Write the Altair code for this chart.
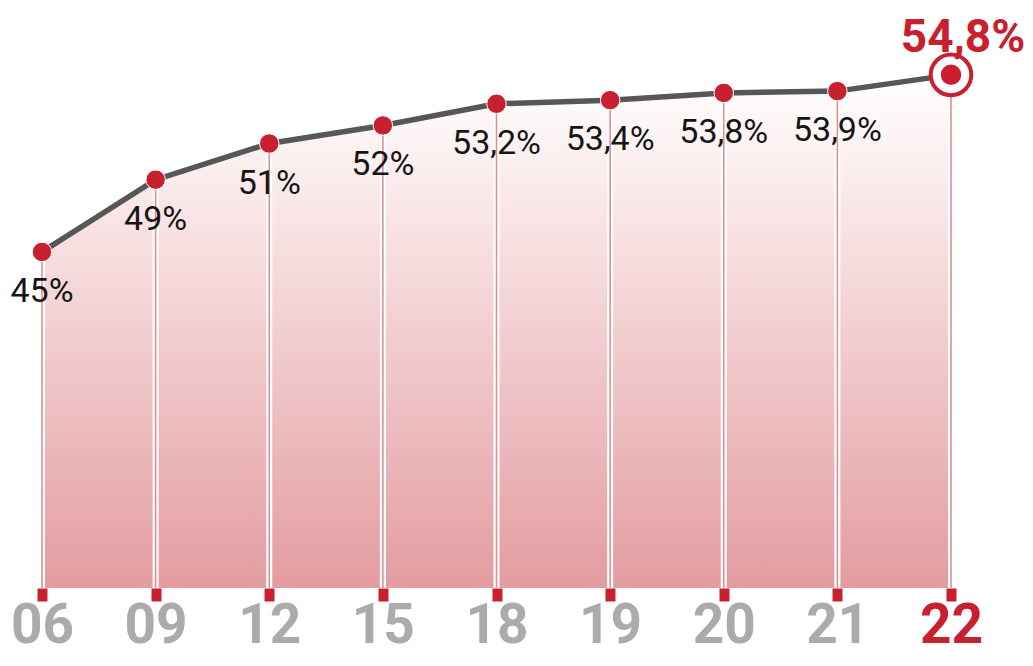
import altair as alt
import pandas as pd

years = ["06", "09", "12", "15", "18", "19", "20", "21", "22"]
values = [45, 49, 51, 52, 53.2, 53.4, 53.8, 53.9, 54.8]
labels = ["45%", "49%", "51%", "52%", "53,2%", "53,4%", "53,8%", "53,9%", "54,8%"]

df = pd.DataFrame({"year": years, "value": values, "label": labels})

Y_MIN, Y_MAX = 26.4, 58.5
RED = "#c8202f"

x = alt.X(
    "year:O",
    sort=None,
    scale=alt.Scale(type="point", range=[34, 943], padding=0),
    axis=alt.Axis(
        title=None,
        domain=False,
        grid=False,
        ticks=True,
        tickColor=RED,
        tickWidth=10,
        tickSize=13,
        labelFont="Roboto",
        labelFontSize=55,
        labelFontWeight="bold",
        labelColor={"condition": {"test": "datum.value == '22'", "value": RED}, "value": "#ababab"},
        labelBaseline="alphabetic",
        labelPadding=41,
        labelAngle=0,
        labelOverlap=False,
    ),
)
y = alt.Y("value:Q", scale=alt.Scale(domain=[Y_MIN, Y_MAX], zero=False, nice=False), axis=None)

base = alt.Chart(df).encode(x=x, y=y)

area = base.mark_area(
    color=alt.Gradient(
        gradient="linear",
        stops=[
            alt.GradientStop(color="#ffffff", offset=0),
            alt.GradientStop(color="#fbeced", offset=0.2),
            alt.GradientStop(color="#e39ca0", offset=1),
        ],
        x1=0, x2=0, y1=0, y2=1,
    ),
    opacity=1,
).encode(y2=alt.datum(Y_MIN))

rules_white = base.mark_rule(color="white", strokeWidth=6).encode(y2=alt.datum(Y_MIN))
rules_pink = base.mark_rule(color="#dc8f95", strokeWidth=1.6).encode(y2=alt.datum(Y_MIN))

line = base.mark_line(color="#575757", strokeWidth=5.5)

dots = base.mark_circle(color=RED, opacity=1, size=380, stroke="white", strokeWidth=1).transform_filter(
    "datum.year != '22'"
)
ring = base.mark_point(
    shape="circle", filled=False, fill="white", stroke=RED, strokeWidth=4, size=1650, opacity=1
).transform_filter("datum.year == '22'")
inner = base.mark_circle(color=RED, opacity=1, size=420).transform_filter("datum.year == '22'")

text = base.mark_text(font="Roboto", fontSize=34, color="#151515", dy=40).encode(
    text="label:N"
).transform_filter("datum.year != '22'")
last_text = base.mark_text(
    font="Roboto", fontSize=46, fontWeight="bold", color=RED, baseline="alphabetic", dy=-23, dx=12
).encode(text="label:N").transform_filter("datum.year == '22'")

chart = (
    alt.layer(area, rules_white, rules_pink, line, dots, ring, inner, text, last_text)
    .properties(
        width=1017,
        height=580,
        padding={"left": 0, "right": 0, "top": 0, "bottom": 70},
        autosize=alt.AutoSizeParams(type="none"),
        background="white",
    )
    .configure_view(stroke=None)
)

chart.save("out.html", embed_options={"renderer": "svg", "actions": False})
